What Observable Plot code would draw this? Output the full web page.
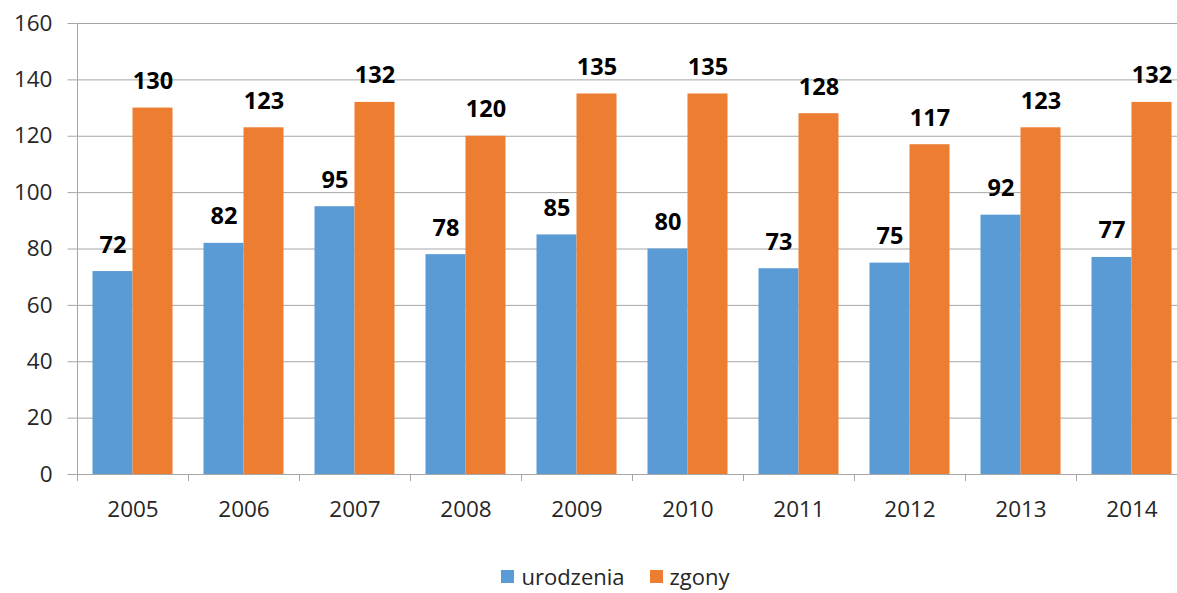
<!DOCTYPE html>
<html>
<head>
<meta charset="utf-8">
<script src="https://cdn.jsdelivr.net/npm/d3@7"></script>
<script src="https://cdn.jsdelivr.net/npm/@observablehq/plot@0.6"></script>
<style>
  body { margin: 0; background: #fff; overflow: hidden; }
  #chart svg { display: block; }
  #legend { position: absolute; left: 0; top: 565px; width: 1177px; height: 22px;
    display: flex; justify-content: center; align-items: center; gap: 25px;
    font-family: "Open Sans", sans-serif; font-size: 22px; line-height: 22px; color: #262626;
    padding-left: 54px; box-sizing: border-box; }
  #legend span.sw { display: inline-block; width: 13px; height: 13px; margin-right: 7px; }
  #legend .item { display: flex; align-items: center; line-height: 22px; }
</style>
</head>
<body>
<div id="chart"></div>
<div id="legend"></div>
<script>
const years = ["2005","2006","2007","2008","2009","2010","2011","2012","2013","2014"];
const urodzenia = [72, 82, 95, 78, 85, 80, 73, 75, 92, 77];
const zgony = [130, 123, 132, 120, 135, 135, 128, 117, 123, 132];
const yTicks = [0, 20, 40, 60, 80, 100, 120, 140, 160];
const seriesNames = ["urodzenia", "zgony"];
const colors = ["#5B9BD5", "#ED7D31"];

const rows = [];
years.forEach((y, i) => {
  rows.push({year: y, series: "urodzenia", value: urodzenia[i]});
  rows.push({year: y, series: "zgony", value: zgony[i]});
});
const uRows = rows.filter(d => d.series === "urodzenia");
const zRows = rows.filter(d => d.series === "zgony");
const yMax = yTicks[yTicks.length - 1];
const grid = "#a6a6a6";
const font = "Open Sans, sans-serif";

const chart = Plot.plot({
  width: 1177,
  height: 545,
  marginTop: 23,
  marginBottom: 71,
  marginLeft: 76.5,
  marginRight: 0,
  style: {fontFamily: font, fontSize: "22.5px", color: "#262626", background: "#fff"},
  x: {domain: years, range: [76.5, 1187.5], padding: 0, label: null},
  y: {domain: [0, yMax], ticks: yTicks, label: null},
  marks: [
    Plot.ruleY(yTicks, {stroke: grid, strokeWidth: 1}),
    Plot.barY(uRows, {x: "year", y: "value", fill: colors[0], insetLeft: 15.5, insetRight: 55.5}),
    Plot.barY(zRows, {x: "year", y: "value", fill: colors[1], insetLeft: 55.5, insetRight: 15.5}),
    Plot.text(uRows, {x: "year", y: "value", text: d => String(d.value), dx: -20, dy: -19, lineAnchor: "bottom",
      fontWeight: "bold", fontSize: 23.5, fill: "#000"}),
    Plot.text(zRows, {x: "year", y: "value", text: d => String(d.value), dx: 20, dy: -19, lineAnchor: "bottom",
      fontWeight: "bold", fontSize: 23.5, fill: "#000"}),
    Plot.ruleX([years[0]], {x: d => d, dx: -55.5, y1: 0, y2: yMax, stroke: grid}),
    Plot.axisY({ticks: yTicks, tickSize: 9, tickPadding: 15.5, stroke: grid, tickFormat: d => String(d), fill: "#262626"}),
    Plot.axisX({tickSize: 7, tickFormat: () => "", dx: -55.5, stroke: grid}),
    Plot.axisX({tickSize: 0, tickPadding: 27, fill: "#262626"})
  ]
});
document.getElementById("chart").appendChild(chart);

const legend = document.getElementById("legend");
seriesNames.forEach((s, i) => {
  const item = document.createElement("div");
  item.className = "item";
  const sw = document.createElement("span");
  sw.className = "sw";
  sw.style.background = colors[i];
  item.appendChild(sw);
  item.appendChild(document.createTextNode(s));
  legend.appendChild(item);
});
</script>
</body>
</html>
